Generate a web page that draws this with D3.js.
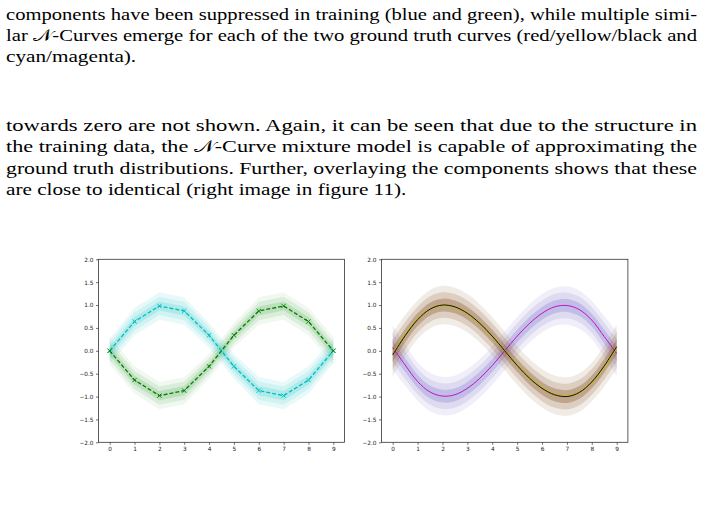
<!DOCTYPE html>
<html><head><meta charset="utf-8">
<script src="https://cdn.jsdelivr.net/npm/d3@7"></script>
<style>body{margin:0;background:#fff}svg{display:block}</style>
</head><body><svg id="c" width="704" height="508"></svg>
<script>
// ---------- data ----------
const para1 = [
  "components have been suppressed in training (blue and green), while multiple simi-",
  "lar 𝒩-Curves emerge for each of the two ground truth curves (red/yellow/black and",
  "cyan/magenta)."
];
const para2 = [
  "towards zero are not shown. Again, it can be seen that due to the structure in",
  "the training data, the 𝒩-Curve mixture model is capable of approximating the",
  "ground truth distributions. Further, overlaying the components shows that these",
  "are close to identical (right image in figure 11)."
];
const xTicks = [0,1,2,3,4,5,6,7,8,9];
const yTicks = [-2.0,-1.5,-1.0,-0.5,0.0,0.5,1.0,1.5,2.0];

// left panel: discrete steps
const stepX = [0,1,2,3,4,5,6,7,8,9];
const cyanMean  = [0.00, 0.64, 0.98, 0.87, 0.34,-0.34,-0.87,-0.98,-0.64, 0.00];
const cyanSigma = [0.09, 0.10, 0.10, 0.10, 0.09, 0.09, 0.10, 0.10, 0.10, 0.09];
const greenMean  = [0.00,-0.64,-0.98,-0.87,-0.34, 0.34, 0.87, 0.98, 0.64, 0.00];
const greenSigma = [0.10, 0.10, 0.10, 0.10, 0.09, 0.09, 0.10, 0.10, 0.10, 0.10];

// right panel: smooth curves
const smoothX = [0,0.5,1,1.5,2,2.5,3,3.5,4,4.5,5,5.5,6,6.5,7,7.5,8,8.5,9];
const blackMean   = [-0.09,0.33,0.68,0.91,1.00,0.96,0.82,0.60,0.32,0.00,-0.32,-0.60,-0.82,-0.96,-1.00,-0.91,-0.68,-0.33,0.09];
const yellowMean  = [-0.06,0.35,0.69,0.91,0.99,0.95,0.81,0.59,0.31,0.00,-0.31,-0.59,-0.81,-0.95,-0.99,-0.91,-0.69,-0.35,0.06];
const brownSigma  = [0.16,0.15,0.14,0.14,0.14,0.14,0.14,0.14,0.14,0.14,0.14,0.14,0.14,0.14,0.14,0.14,0.14,0.15,0.16];
const magentaMean = [0.07,-0.31,-0.67,-0.90,-0.99,-0.96,-0.82,-0.60,-0.32,0.00,0.32,0.60,0.82,0.96,0.99,0.90,0.67,0.31,-0.06];
const purpleSigma = [0.16,0.15,0.14,0.14,0.14,0.14,0.14,0.14,0.14,0.14,0.14,0.14,0.14,0.14,0.14,0.14,0.14,0.15,0.16];

const bandLevels = [3,2,1];

// ---------- page text ----------
const svg = d3.select("#c");
const tx = 6, fullW = 691;
const textG = svg.append("g").attr("font-family","'Liberation Serif', 'DejaVu Serif', serif")
  .attr("font-size",17).attr("fill","#000");
const base1 = [19.5,40.5,61.5], base2 = [130.5,152,173.5,195];
function lines(arr, bases){
  return arr.map((s,i)=> textG.append("text").attr("x",tx).attr("y",bases[i]).text(s));
}
const n1 = lines(para1, base1), n2 = lines(para2, base2);
const scaleX = fullW / n1[0].node().getComputedTextLength();
[n1,n2].forEach(ns=>{
  ns.forEach((n,i)=>{
    const last = i===ns.length-1;
    const w = last ? n.node().getComputedTextLength()*scaleX*1.03 : fullW;
    n.attr("textLength", w).attr("lengthAdjust","spacingAndGlyphs");
  });
});

// ---------- charts ----------
function panel(left, right){
  const top = 259.3, bottom = 442.3;
  const x = d3.scaleLinear().domain([-0.45,9.45]).range([left,right]);
  const y = d3.scaleLinear().domain([-2,2]).range([bottom,top]);
  const g = svg.append("g");
  return {g,x,y,top,bottom,left,right};
}
function axes(p){
  const ax = p.g.append("g").attr("transform",`translate(0,${p.bottom})`)
    .call(d3.axisBottom(p.x).tickValues(xTicks).tickFormat(d3.format("d")).tickSize(2.5).tickPadding(2.5));
  const ay = p.g.append("g").attr("transform",`translate(${p.left},0)`)
    .call(d3.axisLeft(p.y).tickValues(yTicks).tickFormat(d=>d3.format(".1f")(d).replace("-","\u2212")).tickSize(2.5).tickPadding(2.5));
  [ax,ay].forEach(a=>{
    a.select(".domain").remove();
    a.selectAll("line").attr("stroke","#333").attr("stroke-width",0.7);
    a.selectAll("text").attr("font-family","'DejaVu Sans', sans-serif").attr("font-size",5.8).attr("fill","#222");
  });
  p.g.append("rect").attr("x",p.left).attr("y",p.top).attr("width",p.right-p.left).attr("height",p.bottom-p.top)
    .attr("fill","none").attr("stroke","#333").attr("stroke-width",0.8);
}
function bands(p, xs, mean, sigma, color, alphas, curve){
  bandLevels.forEach((k,i)=>{
    const area = d3.area().x((d,j)=>p.x(xs[j]))
      .y0((d,j)=>p.y(mean[j]-k*sigma[j])).y1((d,j)=>p.y(mean[j]+k*sigma[j])).curve(curve);
    p.g.append("path").attr("d",area(mean)).attr("fill",color).attr("fill-opacity",alphas[i]);
  });
}
function line(p, xs, ys, color, w, curve, dash){
  const l = d3.line().x((d,j)=>p.x(xs[j])).y((d,j)=>p.y(ys[j])).curve(curve);
  const path = p.g.append("path").attr("d",l(ys)).attr("fill","none").attr("stroke",color).attr("stroke-width",w);
  if(dash) path.attr("stroke-dasharray",dash);
}
function markers(p, xs, ys, color){
  const s = 2.2;
  p.g.selectAll(null).data(ys).enter().append("path")
    .attr("d",(d,j)=>{const cx=p.x(xs[j]), cy=p.y(d);
      return `M${cx-s},${cy-s}L${cx+s},${cy+s}M${cx-s},${cy+s}L${cx+s},${cy-s}`;})
    .attr("stroke",color).attr("stroke-width",0.9).attr("fill","none");
}

// left
const L = panel(98.5,344.5);
bands(L, stepX, greenMean, greenSigma, "#008000", [0.06,0.09,0.13], d3.curveLinear);
bands(L, stepX, cyanMean, cyanSigma, "#00bfbf", [0.09,0.1,0.16], d3.curveLinear);
line(L, stepX, cyanMean, "#00bfbf", 1.3, d3.curveLinear, "4,2");
markers(L, stepX, cyanMean, "#00bfbf");
line(L, stepX, greenMean, "#008000", 1.3, d3.curveLinear, "4,2");
markers(L, stepX, greenMean, "#008000");
axes(L);

// right
const R = panel(381.5,627.9);
bands(R, smoothX, magentaMean, purpleSigma, "#6f63c8", [0.1,0.14,0.25], d3.curveCatmullRom);
bands(R, smoothX, blackMean, brownSigma, "#8b5a2b", [0.12,0.2,0.35], d3.curveCatmullRom);
line(R, smoothX, magentaMean, "#bf00bf", 0.9, d3.curveCatmullRom);
line(R, smoothX, yellowMean, "#bfbf00", 1.3, d3.curveCatmullRom);
line(R, smoothX, blackMean, "#000000", 0.9, d3.curveCatmullRom);
axes(R);
</script></body></html>
